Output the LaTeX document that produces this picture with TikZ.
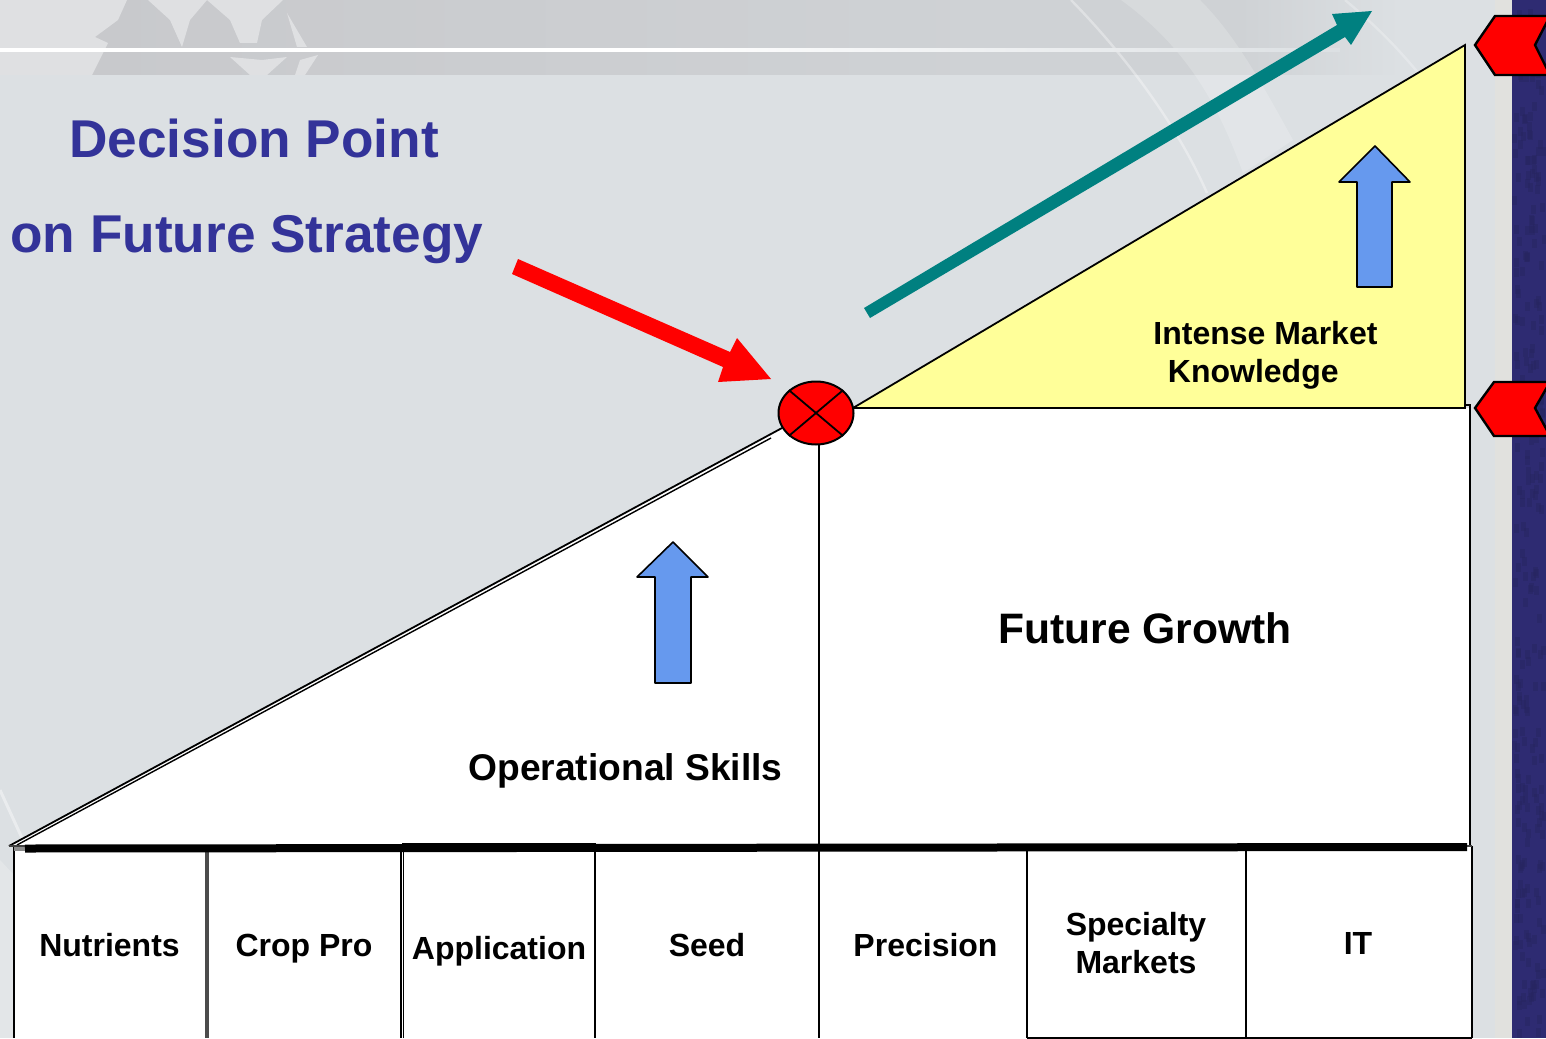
\documentclass[tikz,border=0pt]{standalone}
\usepackage{fontspec}
\setmainfont{Liberation Sans}
\usetikzlibrary{shapes.geometric}
\definecolor{bgc}{HTML}{DCE0E3}
\definecolor{bandc}{HTML}{C8C9CC}
\definecolor{bandr}{HTML}{CFD2D5}
\definecolor{lightc}{HTML}{DFE0E2}
\definecolor{stripc}{HTML}{E8E4DA}
\definecolor{navy}{HTML}{2E2B72}
\definecolor{navyd}{HTML}{272560}
\definecolor{titlec}{HTML}{333399}
\definecolor{tealc}{HTML}{008080}
\definecolor{yel}{HTML}{FFFF99}
\definecolor{bluec}{HTML}{6699EE}
\tikzset{
  lab/.style={font=\bfseries\fontsize{16}{19}\selectfont,align=center,text=black,inner sep=0pt},
  titletext/.style={font=\bfseries\fontsize{26.6}{30}\selectfont,text=titlec,inner sep=0pt,anchor=base west},
  ln/.style={draw=black,line width=0.9pt},
  blockup/.style={draw=black,fill=bluec,line width=0.8pt,line join=round},
  chev/.style={draw=black,fill=red,line width=1.2pt},
}
\begin{document}
\begin{tikzpicture}[x=0.5pt,y=-0.5pt]
\useasboundingbox (0,0) rectangle (1546,1038);
% background
\fill[bgc] (0,0) rectangle (1546,1038);
\fill[left color=bandc,right color=bandr] (90,0) rectangle (1000,75);
\fill[bandr] (1000,0) rectangle (1240,75);
\fill[left color=bandr,right color=bgc] (1240,0) rectangle (1400,75);
\fill[lightc] (0,0) rectangle (90,75);
% map
\fill[lightc] (85,0) -- (127,0) -- (118,20) -- (95,37) -- (108,43) -- (92,75) -- (85,75) -- cycle;
\fill[lightc] (148,0) -- (207,0) -- (190,20) -- (182,47) -- (170,20) -- cycle;
\fill[lightc] (207,0) -- (283,0) -- (262,20) -- (257,43) -- (240,43) -- (230,20) -- cycle;
\fill[lightc] (230,57) -- (250,75) -- (267,75) -- (287,57) -- (262,60) -- cycle;
\fill[lightc] (287,13) -- (307,47) -- (297,47) -- cycle;
\fill[lightc] (300,60) -- (318,55) -- (305,75) -- (295,75) -- cycle;
% faint arcs
\fill[white,opacity=.18] (1121,0) .. controls (1190,50) and (1220,110) .. (1243,173) -- (1293,140) .. controls (1260,80) and (1235,35) .. (1200,0) -- cycle;
\draw[white,line width=1.2pt,opacity=.35] (1071,0) .. controls (1120,50) and (1175,120) .. (1207,193);
\draw[white,line width=1.2pt,opacity=.25] (1345,0) .. controls (1375,25) and (1395,45) .. (1420,75);
\draw[white,line width=1.5pt,opacity=.4] (0,790) -- (22,838);
\fill[white,opacity=.2] (0,860) -- (14,875) -- (14,1038) -- (0,1038) -- cycle;
% top white line
\fill[left color=white,right color=bgc,middle color=white] (0,49) rectangle (1340,52);
% right strip
\fill[stripc,opacity=.45] (1495,0) rectangle (1512,1038);
\fill[navy] (1512,0) rectangle (1546,1038);
\pgfmathsetseed{7}
\foreach \i in {1,...,260}{
  \pgfmathsetmacro{\xx}{1512+rnd*30}
  \pgfmathsetmacro{\yy}{rnd*1030}
  \fill[navyd,opacity=.45] (\xx,\yy) rectangle ++(5,9);
}
% white areas
\coordinate (s1) at (9,846);
\coordinate (s2) at (782,428);
\coordinate (s3) at (17,845);
\coordinate (s4) at (771,438);
\fill[white] (s1) -- (s2) -- (819,430) -- (819,408) -- (1470,408) -- (1470,846) -- cycle;
\fill[white] (14,846) rectangle (1473,1038);
% yellow triangle
\coordinate (ya) at (853,408);
\coordinate (yb) at (1465,45);
\coordinate (yc) at (1465,408);
\filldraw[fill=yel,ln,line join=miter] (ya) -- (yb) -- (yc) -- cycle;
% right panel edge
\draw[ln] (1465,405) -- (1470,405) -- (1470,846);
% slope double line
\draw[ln] (s1) -- (s2);
\draw[line width=0.7pt] (s3) -- (s4);
% divider
\coordinate (dv1) at (819,440);
\coordinate (dv2) at (819,1038);
\draw[ln] (dv1) -- (dv2);
% table
\coordinate (t0) at (14,846);\coordinate (b0) at (14,1038);
\coordinate (t1) at (206.5,846);\coordinate (b1) at (206.5,1038);
\coordinate (t2) at (401,846);\coordinate (b2) at (401,1038);
\coordinate (t2b) at (403.5,846);\coordinate (b2b) at (403.5,1038);
\coordinate (t3) at (595,843);\coordinate (b3) at (595,1038);
\coordinate (t5) at (1027,846);\coordinate (b5) at (1027,1038);
\coordinate (t6) at (1246,846);\coordinate (b6) at (1246,1038);
\coordinate (t7) at (1472,846);\coordinate (b7) at (1472,1038);
\draw[ln] (t0) -- (b0);
\draw[line width=2pt,black!70] (t1) -- (b1);
\draw[ln] (t2) -- (b2);
\draw[ln] (t2b) -- (b2b);
\draw[ln] (t3) -- (b3);
\draw[ln] (t5) -- (b5);
\draw[ln] (t6) -- (b6);
\draw[ln] (t7) -- (b7);
\draw[ln] (b5) -- (b7);
\draw[line width=0.8pt,black!75] (s1) -- (t7);
\fill[black!45] (14,847) rectangle (25,851);
\coordinate (bar1) at (25,848.5);
\coordinate (bar2) at (1467,847);
\draw[line width=4pt] (bar1) -- (bar2);
\coordinate (ap1) at (402,845);
\coordinate (ap2) at (595,845);
\draw[line width=2pt] (ap1) -- (ap2);
% decision point
\node[ellipse,draw=black,fill=red,line width=1pt,minimum width=37.5pt,minimum height=31.5pt,inner sep=0pt] (dp) at (816,413) {};
\draw[line width=0.9pt] (dp.north west) -- (dp.south east);
\draw[line width=0.9pt] (dp.north east) -- (dp.south west);
% arrows
\fill[tealc] (864,308) -- (1337,25) -- (1332,14) -- (1372,11) -- (1351,45) -- (1345,37) -- (870,318) -- cycle;
\fill[red] (518,259) -- (730,352) -- (737,338) -- (771,379) -- (718,382) -- (723,367) -- (512,274) -- cycle;
\draw[blockup] (1375,146) -- (1410,182) -- (1392,182) -- (1392,287) -- (1357,287) -- (1357,182) -- (1339,182) -- cycle;
\draw[blockup] (673,542) -- (708,577) -- (691,577) -- (691,683) -- (655,683) -- (655,577) -- (637,577) -- cycle;
% chevrons
\draw[chev] (1550,16) -- (1495,16) -- (1475,45) -- (1495,75) -- (1550,75) -- (1535,45) -- (1550,16);
\draw[chev] (1550,382) -- (1494,382) -- (1475,408) -- (1494,436) -- (1550,436) -- (1535,408) -- (1550,382);
% text
\node[titletext] (t-a) at (69,157) {Decision Point};
\node[titletext] (t-b) at (10,252) {on Future Strategy};
\node[lab,font=\bfseries\fontsize{21.3}{25}\selectfont,anchor=base west] (fg) at (998,643) {Future Growth};
\node[lab,font=\bfseries\fontsize{18.6}{22}\selectfont,anchor=base west] (os) at (468,780) {Operational Skills};
\node[lab,anchor=base west] (im1) at (1153,344) {Intense Market};
\node[lab,anchor=base west] (im2) at (1167.5,382) {Knowledge};
\node[lab,anchor=base] (n1) at (109.5,956) {Nutrients};
\node[lab,anchor=base] (n2) at (304,956) {Crop Pro};
\node[lab,anchor=base] (n3) at (499,959) {Application};
\node[lab,anchor=base] (n4) at (707,956) {Seed};
\node[lab,anchor=base] (n5) at (925.5,956) {Precision};
\node[lab,anchor=base] (n6) at (1136,935) {Specialty};
\node[lab,anchor=base] (n6b) at (1136,973) {Markets};
\node[lab,anchor=base] (n7) at (1358,954) {IT};
\end{tikzpicture}
\end{document}
